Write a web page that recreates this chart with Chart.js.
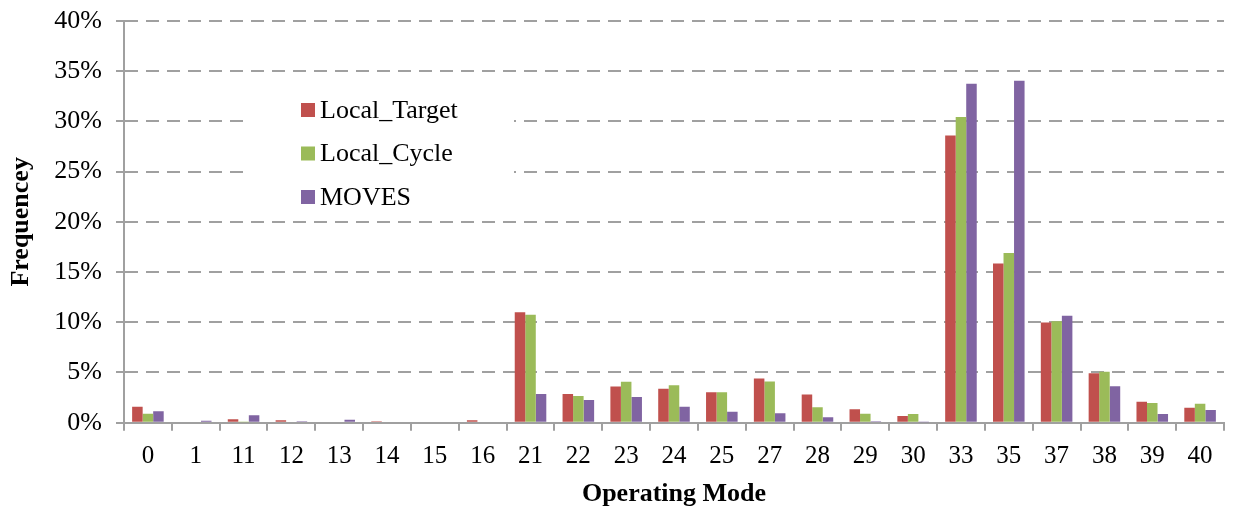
<!DOCTYPE html>
<html>
<head>
<meta charset="utf-8">
<script src="https://cdn.jsdelivr.net/npm/chart.js@4.4.1/dist/chart.umd.min.js"></script>
<style>
  html, body { margin: 0; padding: 0; background: #fff; }
  #wrap { width: 1233px; height: 512px; }
</style>
</head>
<body>
<div id="wrap"><canvas id="c" width="1233" height="512"></canvas></div>
<script>
const categories = ['0','1','11','12','13','14','15','16','21','22','23','24','25','27','28','29','30','33','35','37','38','39','40'];
const localTarget = [1.6, 0.1, 0.35, 0.25, 0.1, 0.15, 0.1, 0.25, 11.0, 2.85, 3.6, 3.37, 3.04, 4.4, 2.8, 1.34, 0.67, 28.6, 15.85, 9.97, 4.93, 2.09, 1.5];
const localCycle  = [0.9, 0, 0.05, 0, 0, 0, 0, 0, 10.75, 2.67, 4.07, 3.73, 3.04, 4.1, 1.54, 0.9, 0.87, 30.45, 16.89, 10.1, 5.08, 1.96, 1.89];
const moves       = [1.15, 0.2, 0.75, 0.15, 0.3, 0, 0.1, 0, 2.85, 2.27, 2.57, 1.6, 1.1, 0.94, 0.54, 0.15, 0.05, 33.74, 34.04, 10.64, 3.63, 0.87, 1.27];
const seriesNames = ['Local_Target', 'Local_Cycle', 'MOVES'];
const seriesColors = ['#C0504D', '#9BBB59', '#8064A2'];
const yTicks = [0, 5, 10, 15, 20, 25, 30, 35, 40];

const FONT = '"Liberation Serif", "Times New Roman", serif';
const GRID = '#a0a0a0';

const boxLegend = {
  id: 'boxLegend',
  beforeDatasetsDraw(chart) {
    const ctx = chart.ctx;
    ctx.save();
    ctx.fillStyle = '#ffffff';
    ctx.fillRect(246, 84, 268, 128);
    const x = 301, y0 = 110, gap = 43.5;
    ctx.font = '26px ' + FONT;
    ctx.textBaseline = 'middle';
    ctx.textAlign = 'left';
    chart.data.datasets.forEach((ds, i) => {
      const cy = y0 + i * gap;
      ctx.fillStyle = ds.backgroundColor;
      ctx.fillRect(x, cy - 7, 14, 14);
      ctx.fillStyle = '#000';
      ctx.fillText(ds.label, x + 19, cy + 1);
    });
    ctx.restore();
  }
};

const data = {
  labels: categories,
  datasets: [
    { label: seriesNames[0], data: localTarget, backgroundColor: seriesColors[0] },
    { label: seriesNames[1], data: localCycle, backgroundColor: seriesColors[1] },
    { label: seriesNames[2], data: moves, backgroundColor: seriesColors[2] }
  ]
};

new Chart(document.getElementById('c'), {
  type: 'bar',
  data: data,
  plugins: [boxLegend],
  options: {
    responsive: false,
    animation: false,
    devicePixelRatio: 1,
    layout: { padding: { top: 21, right: 9, bottom: 0, left: 0 } },
    datasets: { bar: { categoryPercentage: 0.66, barPercentage: 1.0, borderWidth: 0 } },
    plugins: {
      legend: { display: false },
      tooltip: { enabled: false },
      title: { display: false }
    },
    scales: {
      x: {
        offset: true,
        grid: { display: true, drawOnChartArea: false, drawTicks: true, tickLength: 8, color: GRID, lineWidth: 2, offset: true },
        border: { display: true, color: GRID, width: 2 },
        ticks: { color: '#000', font: { family: FONT, size: 25 }, padding: 11, maxRotation: 0, autoSkip: false },
        title: { display: true, text: 'Operating Mode', color: '#000', font: { family: FONT, size: 26, weight: 'bold' }, padding: { top: 0, bottom: 2 } },
        afterFit(scale) { scale.height = 89.3; scale.paddingLeft = 0; scale.paddingRight = 0; }
      },
      y: {
        min: 0,
        max: 40,
        afterBuildTicks(scale) { scale.ticks = yTicks.map(v => ({ value: v })); },
        grid: { color: GRID, lineWidth: 2, tickLength: 8, tickBorderDash: [] },
        border: { display: true, color: GRID, width: 2, dash: [13, 8] },
        ticks: { color: '#000', font: { family: FONT, size: 26 }, padding: 14, callback: v => v + '%' },
        title: { display: true, text: 'Frequencey', color: '#000', font: { family: FONT, size: 26, weight: 'bold' }, padding: { top: 6, bottom: 0 } },
        afterFit(scale) { scale.width = 124; scale.paddingTop = 0; scale.paddingBottom = 0; }
      }
    }
  }
});
</script>
</body>
</html>
